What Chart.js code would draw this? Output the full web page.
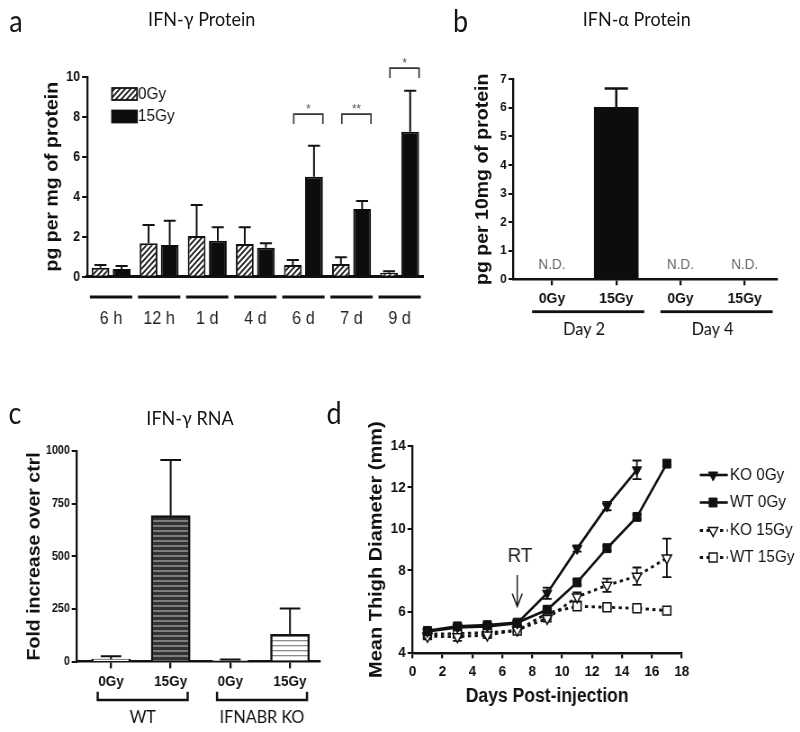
<!DOCTYPE html>
<html><head><meta charset="utf-8">
<script src="https://cdn.jsdelivr.net/npm/chart.js@4.4.1/dist/chart.umd.min.js"></script>
<style>
html,body{margin:0;padding:0;background:#fff;overflow:hidden;width:800px;height:732px}
#wrap{position:absolute;left:0;top:0;height:732px;transform-origin:0 0}
#wrap canvas{position:absolute}
.t{position:absolute;white-space:nowrap;transform:translateX(-50%);line-height:1;color:#151515}
</style></head>
<body><div id="wrap"></div>
<script>
// ---------------- DATA ----------------
// a: IFN-gamma protein
const aCats = ['6 h','12 h','1 d','4 d','6 d','7 d','9 d'];
const aSeries = ['0Gy','15Gy'];
const a0Gy = [0.45, 1.67, 2.03, 1.63, 0.58, 0.63, 0.2];
const a0GyErr = [0.13, 0.91, 1.55, 0.84, 0.25, 0.34, 0.07];
const a15Gy = [0.38, 1.58, 1.8, 1.45, 5.0, 3.38, 7.25];
const a15GyErr = [0.15, 1.22, 0.67, 0.22, 1.55, 0.4, 2.05];
const aSigCats = ['6 d','7 d','9 d'];
const aSigMarks = ['*','**','*'];
const aSigLevels = [8.13, 8.13, 10.43];

// b: IFN-alpha protein
const bCats = ['0Gy','15Gy','0Gy','15Gy'];
const bGroups = ['Day 2','Day 4'];
const bValues = [null, 6.02, null, null];   // null = N.D.
const bErr = [null, 0.66, null, null];

// c: IFN-gamma RNA
const cCats = ['0Gy','15Gy','0Gy','15Gy'];
const cGroups = ['WT','IFNABR KO'];
const cValues = [12, 693, 6, 130];
const cErr = [14, 264, 5, 123];

// d: tumour growth
const dSeries = ['KO 0Gy','WT 0Gy','KO 15Gy','WT 15Gy'];
const dDaysKO0 = [1,3,5,7,9,11,13,15];
const dDays = [1,3,5,7,9,11,13,15,17];
const dKO0 = [5.05, 5.25, 5.3, 5.45, 6.9, 9.05, 11.1, 12.85];
const dKO0Err = [0.12, 0.12, 0.1, 0.1, 0.27, 0.15, 0.2, 0.45];
const dWT0 = [5.08, 5.3, 5.36, 5.48, 6.1, 7.42, 9.07, 10.58, 13.15];
const dWT0Err = [0.1, 0.12, 0.1, 0.1, 0.15, 0.15, 0.12, 0.12, 0.1];
const dKO15 = [4.82, 4.8, 4.88, 5.12, 5.68, 6.72, 7.28, 7.72, 8.6];
const dKO15Err = [0.15, 0.2, 0.15, 0.1, 0.15, 0.22, 0.32, 0.42, 0.93];
const dWT15 = [4.92, 4.95, 5.0, 5.1, 5.93, 6.27, 6.22, 6.17, 6.06];
const dWT15Err = [0.1, 0.1, 0.1, 0.1, 0.3, 0.15, 0.1, 0.1, 0.1];

// ---------------- SETUP ----------------
const S = 0.9; // horizontal squeeze of the original figure
const wrap = document.getElementById('wrap');
wrap.style.width = (800 / S) + 'px';
wrap.style.transform = 'scaleX(' + S + ')';
const AR = "'Liberation Sans', Arial, Helvetica, sans-serif";
const LA = "Lato, 'Open Sans', 'Liberation Sans', sans-serif";
const INK = '#111';

function canvasAt(x, y, w, h) {
  const c = document.createElement('canvas');
  c.width = Math.round(w / S); c.height = h;
  c.style.left = (x / S) + 'px'; c.style.top = y + 'px';
  c.style.width = c.width + 'px'; c.style.height = h + 'px';
  wrap.appendChild(c);
  return c;
}
function label(text, cx, base, size, fam) {
  const d = document.createElement('div');
  d.className = 't'; d.textContent = text;
  const k = fam === LA ? 0.887 : 0.8465;
  d.style.left = (cx / S) + 'px';
  d.style.top = (base - k * size) + 'px';
  d.style.fontFamily = fam; d.style.fontSize = size + 'px';
  wrap.appendChild(d);
}
function hatch() {
  const c = document.createElement('canvas'); c.width = 6; c.height = 6;
  const g = c.getContext('2d');
  g.fillStyle = '#fff'; g.fillRect(0, 0, 6, 6);
  g.strokeStyle = '#1a1a1a'; g.lineWidth = 1.8;
  g.beginPath();
  g.moveTo(-1, 7); g.lineTo(7, -1);
  g.moveTo(-1, 1); g.lineTo(1, -1);
  g.moveTo(5, 7); g.lineTo(7, 5);
  g.stroke();
  return g.createPattern(c, 'repeat');
}
function stripes(base, line, lw) {
  const c = document.createElement('canvas'); c.width = 4; c.height = 5;
  const g = c.getContext('2d');
  g.fillStyle = base; g.fillRect(0, 0, 4, 5);
  g.fillStyle = line; g.fillRect(0, 0, 4, lw);
  return g.createPattern(c, 'repeat');
}
function drawErrors(chart, o) {
  const ctx = chart.ctx, y = chart.scales.y;
  ctx.save(); ctx.strokeStyle = INK; ctx.lineWidth = o.lw;
  chart.data.datasets.forEach((ds, di) => {
    if (!ds.errors) return;
    chart.getDatasetMeta(di).data.forEach((el, i) => {
      const raw = ds.data[i];
      const v = raw !== null && typeof raw === 'object' ? raw.y : raw;
      const e = ds.errors[i];
      if (v == null || e == null) return;
      const top = y.getPixelForValue(v + e);
      const bot = o.both ? y.getPixelForValue(v - e) : y.getPixelForValue(v);
      const cw = o.cap / S;
      ctx.beginPath();
      ctx.moveTo(el.x, bot); ctx.lineTo(el.x, top);
      ctx.moveTo(el.x - cw, top); ctx.lineTo(el.x + cw, top);
      if (o.both) { ctx.moveTo(el.x - cw, bot); ctx.lineTo(el.x + cw, bot); }
      ctx.stroke();
    });
  });
  ctx.restore();
}
function yAxis(o) {
  const lh = o.titleSize * 1.2;
  return {
    min: o.min, max: o.max,
    ticks: { stepSize: o.step, font: { family: AR, weight: 'bold', size: o.tickSize }, color: INK, padding: 2,
      callback: (v) => String(v) },
    grid: { drawOnChartArea: false, drawTicks: true, tickLength: 5 / S, color: INK, lineWidth: 2 },
    border: { color: INK, width: 2.3 },
    title: { display: true, text: o.title, color: INK,
      font: { family: AR, weight: 'bold', size: o.titleSize, lineHeight: 1.2 },
      padding: { top: o.titleX / S - lh / 2, bottom: 0 } },
    afterFit(s) { s.width = o.w / S; }
  };
}
const base = {
  responsive: false, animation: false, devicePixelRatio: 1,
  events: [],
};
const noPlug = { legend: { display: false }, tooltip: { enabled: false } };

// ---------------- TEXT (titles, panel letters) ----------------
label('a', 16, 31.7, 30, LA);
label('IFN-\u03b3 Protein', 201.7, 26, 20, LA);
label('b', 460.7, 31.7, 30, LA);
label('IFN-\u03b1 Protein', 636.7, 26, 20, LA);
label('c', 15, 423.3, 30, LA);
label('IFN-\u03b3 RNA', 190, 425, 20, LA);
label('d', 334, 423.3, 30, LA);

// ---------------- PANEL A ----------------
const plugA = { id: 'plugA', afterDatasetsDraw(chart) {
  drawErrors(chart, { cap: 6, lw: 2 });
  const ctx = chart.ctx, x = chart.scales.x, y = chart.scales.y;
  ctx.save();
  // legend
  chart.data.datasets.forEach((ds, i) => {
    const cy = [94, 116.5][i];
    ctx.fillStyle = ds.backgroundColor; ctx.fillRect(112 / S, cy - 6, 25 / S, 12);
    ctx.lineWidth = 1.8; ctx.strokeStyle = INK; ctx.strokeRect(112 / S, cy - 6, 25 / S, 12);
    ctx.fillStyle = INK; ctx.font = '17px ' + AR; ctx.textBaseline = 'middle'; ctx.textAlign = 'left';
    ctx.fillText(ds.label, 138 / S, cy);
  });
  // group underlines
  const cw = (x.right - x.left) / aCats.length;
  ctx.fillStyle = INK;
  aCats.forEach((c, i) => { const cx = x.getPixelForValue(i); ctx.fillRect(cx - 0.44 * cw, 295.5, 0.88 * cw, 3); });
  // significance brackets
  aSigCats.forEach((c, k) => {
    const i = aCats.indexOf(c);
    const b0 = chart.getDatasetMeta(0).data[i], b1 = chart.getDatasetMeta(1).data[i];
    const xl = b0.x + 1, xr = b1.x + b1.width / 2;
    const yt = y.getPixelForValue(aSigLevels[k]);
    ctx.strokeStyle = '#333'; ctx.lineWidth = 1.6;
    ctx.beginPath(); ctx.moveTo(xl, yt + 10); ctx.lineTo(xl, yt); ctx.lineTo(xr, yt); ctx.lineTo(xr, yt + 10); ctx.stroke();
    ctx.fillStyle = '#555'; ctx.font = '13px ' + AR; ctx.textAlign = 'center'; ctx.textBaseline = 'alphabetic';
    ctx.fillText(aSigMarks[k], (xl + xr) / 2, yt - 1);
  });
  ctx.restore();
} };
new Chart(canvasAt(0, 0, 440, 360), {
  type: 'bar',
  data: { labels: aCats, datasets: [
    { label: aSeries[0], data: a0Gy, errors: a0GyErr, backgroundColor: hatch(), borderColor: INK, borderWidth: 2 },
    { label: aSeries[1], data: a15Gy, errors: a15GyErr, backgroundColor: '#0d0d0d', borderColor: '#0d0d0d', borderWidth: 2 }
  ] },
  options: Object.assign({}, base, {
    layout: { padding: { left: 0, top: 76.7, right: 15 / S, bottom: 0 } },
    datasets: { bar: { categoryPercentage: 0.88, barPercentage: 0.84 } },
    plugins: noPlug,
    scales: {
      x: { type: 'category', offset: true,
        grid: { drawOnChartArea: false, drawTicks: false },
        border: { color: INK, width: 3 },
        ticks: { font: { family: AR, size: 18 }, color: '#222', padding: 31.3, maxRotation: 0, autoSkip: false },
        afterFit(s) { s.height = 83.3; } },
      y: yAxis({ min: 0, max: 10, step: 2, w: 87, tickSize: 14, title: 'pg per mg of protein', titleSize: 19.5, titleX: 53 })
    }
  }),
  plugins: [plugA]
});

// ---------------- PANEL B ----------------
const plugB = { id: 'plugB', afterDatasetsDraw(chart) {
  drawErrors(chart, { cap: 11.7, lw: 2.5 });
  const ctx = chart.ctx, x = chart.scales.x, y = chart.scales.y;
  ctx.save();
  ctx.fillStyle = '#666'; ctx.font = '15px ' + AR; ctx.textAlign = 'center'; ctx.textBaseline = 'middle';
  bValues.forEach((v, i) => { if (v == null) ctx.fillText('N.D.', x.getPixelForValue(i), y.getPixelForValue(0.5)); });
  ctx.fillStyle = INK;
  bGroups.forEach((g, k) => {
    const x0 = x.getPixelForValue(2 * k), x1 = x.getPixelForValue(2 * k + 1);
    ctx.fillRect(x0 - 20 / S, 310.3, (x1 - x0) + 48 / S, 2.8);
    ctx.font = '18px ' + LA; ctx.textBaseline = 'alphabetic';
    ctx.fillText(g, (x0 + x1) / 2, 335);
  });
  ctx.restore();
} };
new Chart(canvasAt(430, 0, 370, 360), {
  type: 'bar',
  data: { datasets: [
    { label: 'IFN-\u03b1', data: bValues.map((v, i) => ({ x: i, y: v })), errors: bErr,
      backgroundColor: '#0d0d0d', borderColor: '#0d0d0d', borderWidth: 0, barThickness: 44 / S }
  ] },
  options: Object.assign({}, base, {
    layout: { padding: { left: 0, top: 79.3, right: 23.3 / S, bottom: 0 } },
    plugins: noPlug,
    scales: {
      x: { type: 'linear', min: -0.6, max: 3.5, offset: false,
        afterBuildTicks(s) { s.ticks = bCats.map((c, i) => ({ value: i })); },
        grid: { offset: false, drawOnChartArea: false, drawTicks: true, tickLength: 6, color: INK, lineWidth: 2.3 },
        border: { color: INK, width: 2.5 },
        ticks: { autoSkip: false, maxRotation: 0, font: { family: AR, weight: 'bold', size: 15.5 }, color: INK, padding: 4.2,
          callback: (v) => bCats[v] },
        afterFit(s) { s.height = 80.7; } },
      y: yAxis({ min: 0, max: 7, step: 1, w: 83.3, tickSize: 13, title: 'pg per 10mg of protein', titleSize: 19.5, titleX: 53 })
    }
  }),
  plugins: [plugB]
});

// ---------------- PANEL C ----------------
const plugC = { id: 'plugC', afterDatasetsDraw(chart) {
  drawErrors(chart, { cap: 10.3, lw: 2 });
  const ctx = chart.ctx, x = chart.scales.x;
  ctx.save();
  ctx.strokeStyle = INK; ctx.lineWidth = 2.5; ctx.fillStyle = INK;
  cGroups.forEach((g, k) => {
    const x0 = x.getPixelForValue(2 * k), x1 = x.getPixelForValue(2 * k + 1);
    const xl = x0 - 13.3 / S, xr = x1 + 17 / S;
    ctx.beginPath(); ctx.moveTo(xl, 321.7); ctx.lineTo(xl, 330); ctx.lineTo(xr, 330); ctx.lineTo(xr, 321.7); ctx.stroke();
    ctx.font = '18px ' + LA; ctx.textAlign = 'center'; ctx.textBaseline = 'alphabetic';
    ctx.fillText(g, (xl + xr) / 2, 353.3);
  });
  ctx.restore();
} };
new Chart(canvasAt(0, 370, 335, 362), {
  type: 'bar',
  data: { datasets: [
    { label: 'IFN-\u03b3 RNA', data: cValues.map((v, i) => ({ x: i, y: v })), errors: cErr,
      backgroundColor: ['#fff', stripes('#333', '#7d7d7d', 2), '#fff', stripes('#fff', '#8a8a8a', 1.3)],
      borderColor: INK, borderWidth: 2.5, barThickness: 39 / S }
  ] },
  options: Object.assign({}, base, {
    layout: { padding: { left: 0, top: 81, right: 15 / S, bottom: 0 } },
    plugins: noPlug,
    scales: {
      x: { type: 'linear', min: -0.575, max: 3.5, offset: false,
        afterBuildTicks(s) { s.ticks = cCats.map((c, i) => ({ value: i })); },
        grid: { offset: false, drawOnChartArea: false, drawTicks: true, tickLength: 6.7, color: INK, lineWidth: 2.3 },
        border: { color: INK, width: 2.5 },
        ticks: { autoSkip: false, maxRotation: 0, font: { family: AR, weight: 'bold', size: 15 }, color: INK, padding: 4.5,
          callback: (v) => cCats[v] },
        afterFit(s) { s.height = 70.3; } },
      y: yAxis({ min: 0, max: 1000, step: 250, w: 76.7, tickSize: 12, title: 'Fold increase over ctrl', titleSize: 19.5, titleX: 35 })
    }
  }),
  plugins: [plugC]
});

// ---------------- PANEL D ----------------
const plugD = { id: 'plugD',
  beforeDatasetsDraw(chart) { drawErrors(chart, { cap: 4.5, lw: 1.8, both: true }); },
  afterDatasetsDraw(chart) {
    const ctx = chart.ctx, x = chart.scales.x, y = chart.scales.y;
    ctx.save();
    const ys = [105, 132.5, 160.5, 187.5];
    chart.data.datasets.forEach((ds, i) => {
      const yy = ys[i];
      ctx.save();
      ctx.strokeStyle = INK; ctx.lineWidth = ds.borderWidth; ctx.setLineDash(ds.borderDash || []);
      ctx.beginPath(); ctx.moveTo(365 / S, yy); ctx.lineTo(393 / S, yy); ctx.stroke();
      ctx.restore();
      ctx.fillStyle = ds.pointBackgroundColor; ctx.strokeStyle = INK; ctx.lineWidth = ds.pointBorderWidth;
      Chart.helpers.drawPoint(ctx, { pointStyle: ds.pointStyle, rotation: ds.pointRotation || 0,
        radius: ds.pointRadius, borderWidth: ds.pointBorderWidth }, 378.3 / S, yy);
      ctx.fillStyle = INK; ctx.font = '17px ' + AR; ctx.textAlign = 'left'; ctx.textBaseline = 'middle';
      ctx.fillText(ds.label, 395 / S, yy);
    });
    // RT arrow
    const xr = x.getPixelForValue(7);
    ctx.fillStyle = '#222'; ctx.font = '21px ' + AR; ctx.textAlign = 'center'; ctx.textBaseline = 'middle';
    ctx.fillText('RT', xr + 2.7 / S, y.getPixelForValue(8.7));
    const yTop = y.getPixelForValue(7.78), yTip = y.getPixelForValue(6.25);
    ctx.strokeStyle = '#222'; ctx.lineWidth = 1.5;
    ctx.beginPath(); ctx.moveTo(xr, yTop); ctx.lineTo(xr, yTip);
    ctx.moveTo(xr - 5 / S, yTip - 13); ctx.lineTo(xr, yTip); ctx.lineTo(xr + 5 / S, yTip - 13);
    ctx.stroke();
    ctx.restore();
  } };
const pts = (days, vals) => days.map((d, i) => ({ x: d, y: vals[i] }));
new Chart(canvasAt(335, 370, 465, 362), {
  type: 'line',
  data: { datasets: [
    { label: dSeries[0], data: pts(dDaysKO0, dKO0), errors: dKO0Err, borderColor: INK, borderWidth: 2.6,
      pointStyle: 'triangle', pointRotation: 180, pointRadius: 6, pointBackgroundColor: INK, pointBorderColor: INK, pointBorderWidth: 1 },
    { label: dSeries[1], data: pts(dDays, dWT0), errors: dWT0Err, borderColor: INK, borderWidth: 2.6,
      pointStyle: 'rect', pointRadius: 6.3, pointBackgroundColor: INK, pointBorderColor: INK, pointBorderWidth: 1 },
    { label: dSeries[2], data: pts(dDays, dKO15), errors: dKO15Err, borderColor: INK, borderWidth: 2.8, borderDash: [3.5, 4],
      pointStyle: 'triangle', pointRotation: 180, pointRadius: 6, pointBackgroundColor: '#fff', pointBorderColor: INK, pointBorderWidth: 1.5 },
    { label: dSeries[3], data: pts(dDays, dWT15), errors: dWT15Err, borderColor: INK, borderWidth: 2.8, borderDash: [3.5, 4],
      pointStyle: 'rect', pointRadius: 6.3, pointBackgroundColor: '#fff', pointBorderColor: INK, pointBorderWidth: 1.5 }
  ] },
  options: Object.assign({}, base, {
    layout: { padding: { left: 0, top: 76, right: 118.3 / S, bottom: 0 } },
    plugins: noPlug,
    scales: {
      x: { type: 'linear', min: 0, max: 18,
        ticks: { stepSize: 2, autoSkip: false, maxRotation: 0, font: { family: AR, weight: 'bold', size: 15 }, color: INK, padding: 4.5 },
        grid: { drawOnChartArea: false, drawTicks: true, tickLength: 5, color: INK, lineWidth: 2.3 },
        border: { color: INK, width: 2.5 },
        title: { display: true, text: 'Days Post-injection', color: INK,
          font: { family: AR, weight: 'bold', size: 19.5, lineHeight: 1.2 }, padding: { top: 0, bottom: 23.6 } },
        afterFit(s) { s.height = 78.7; } },
      y: yAxis({ min: 4, max: 14, step: 2, w: 77.7, tickSize: 15, title: 'Mean Thigh Diameter (mm)', titleSize: 20, titleX: 41.7 })
    }
  }),
  plugins: [plugD]
});
</script>
</body></html>
